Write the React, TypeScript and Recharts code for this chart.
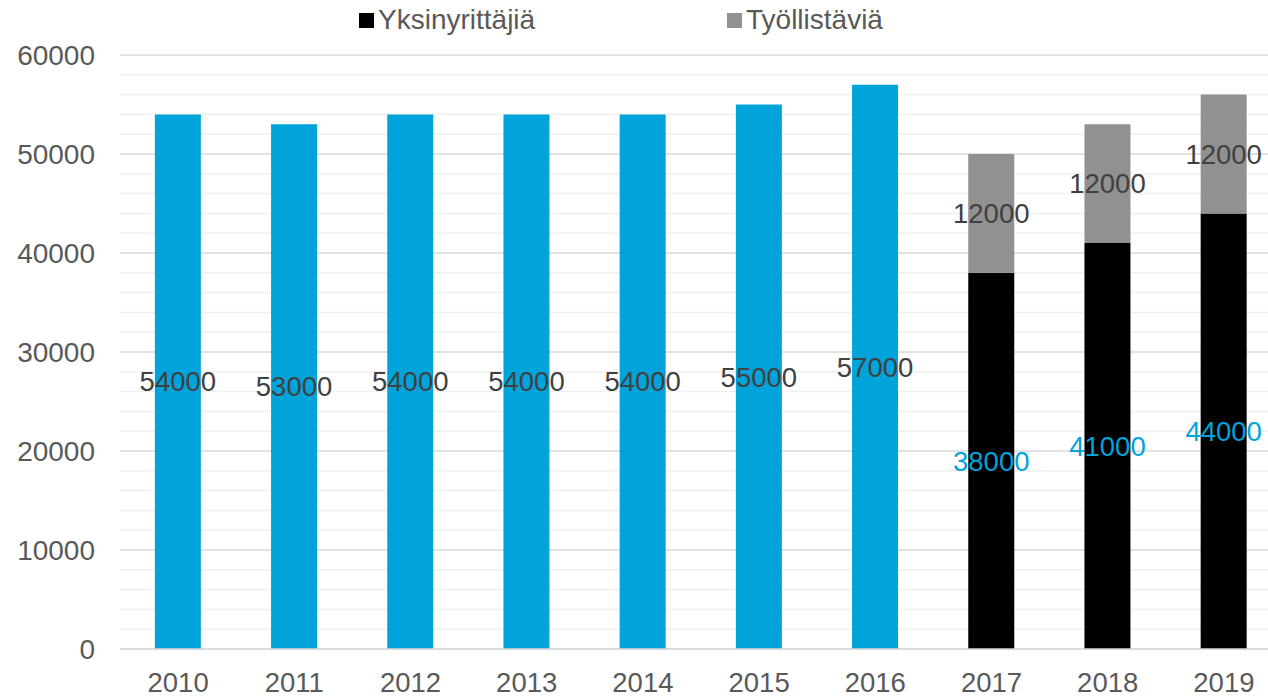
import { BarChart, Bar, XAxis, YAxis, CartesianGrid, LabelList } from 'recharts';

const years = ['2010', '2011', '2012', '2013', '2014', '2015', '2016', '2017', '2018', '2019'];
const totals = [54000, 53000, 54000, 54000, 54000, 55000, 57000, null, null, null];
const soloEntrepreneurs = [null, null, null, null, null, null, null, 38000, 41000, 44000];
const employers = [null, null, null, null, null, null, null, 12000, 12000, 12000];

const majorTicks = [0, 10000, 20000, 30000, 40000, 50000, 60000];
const minorTicks = [
  2000, 4000, 6000, 8000, 12000, 14000, 16000, 18000, 22000, 24000, 26000, 28000,
  32000, 34000, 36000, 38000, 42000, 44000, 46000, 48000, 52000, 54000, 56000, 58000
];

const BLUE = '#00a3da';
const GREY = '#919191';
const TEXT = '#595959';
const LABEL = '#404040';
const FONT = '"Liberation Sans", Arial, sans-serif';

const data = years.map((year, i) => ({
  year,
  total: totals[i],
  solo: soloEntrepreneurs[i],
  employers: employers[i]
}));

const hideEmpty = (v: any) => (v == null ? '' : v);

function LegendItem({ left, color, label }: { left: number; color: string; label: string }) {
  return (
    <div style={{ position: 'absolute', top: 4, left, display: 'flex', alignItems: 'center', fontSize: 28, color: TEXT, lineHeight: '32px' }}>
      <span style={{ width: 15, height: 15, background: color, marginRight: 4 }} />
      <span>{label}</span>
    </div>
  );
}

export default function App() {
  return (
    <div style={{ position: 'absolute', left: 0, top: 0, width: 1268, height: 697, overflow: 'hidden', fontFamily: FONT }}>
      <LegendItem left={359} color="#000" label="Yksinyrittäjiä" />
      <LegendItem left={727} color={GREY} label="Työllistäviä" />
      <BarChart
        width={1282}
        height={697}
        data={data}
        margin={{ top: 55, right: 0, left: 0, bottom: 0 }}
        barCategoryGap="30%"
      >
        <CartesianGrid vertical={false} horizontalValues={minorTicks} stroke="#f0f0f0" strokeWidth={1.5} />
        <CartesianGrid vertical={false} stroke="#d9d9d9" strokeWidth={1.5} />
        <XAxis
          dataKey="year"
          height={48}
          tickLine={false}
          tickSize={0}
          tickMargin={23}
          axisLine={{ stroke: '#d9d9d9', strokeWidth: 1.5 }}
          tick={{ fill: TEXT, fontSize: 27.5, fontFamily: FONT }}
        />
        <YAxis
          width={120}
          domain={[0, 60000]}
          ticks={majorTicks}
          interval={0}
          axisLine={false}
          tickLine={false}
          tickSize={0}
          tickMargin={25}
          tick={{ fill: TEXT, fontSize: 28, fontFamily: FONT }}
        />
        <Bar dataKey="total" stackId="a" fill={BLUE} isAnimationActive={false}>
          <LabelList dataKey="total" position="center" fill={LABEL} fontSize={27.5} fontFamily={FONT} formatter={hideEmpty} />
        </Bar>
        <Bar dataKey="solo" stackId="a" fill="#000" isAnimationActive={false}>
          <LabelList dataKey="solo" position="center" fill={BLUE} fontSize={27.5} fontFamily={FONT} formatter={hideEmpty} />
        </Bar>
        <Bar dataKey="employers" stackId="a" fill={GREY} isAnimationActive={false}>
          <LabelList dataKey="employers" position="center" fill={LABEL} fontSize={27.5} fontFamily={FONT} formatter={hideEmpty} />
        </Bar>
      </BarChart>
    </div>
  );
}
